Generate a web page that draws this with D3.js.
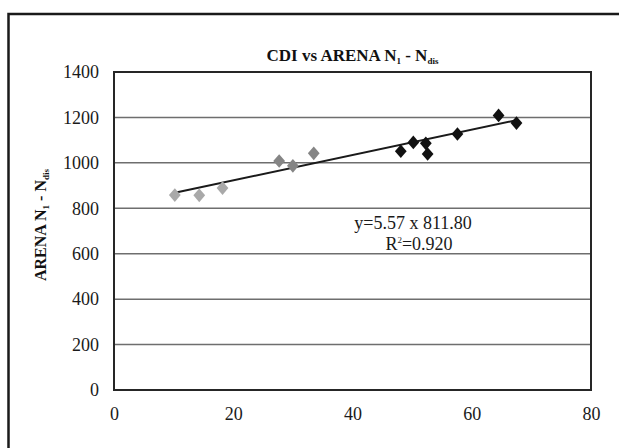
<!DOCTYPE html>
<html>
<head>
<meta charset="utf-8">
<script src="https://cdn.jsdelivr.net/npm/d3@7"></script>
<style>
  html, body { margin: 0; padding: 0; background: #fff; }
  svg { display: block; }
</style>
</head>
<body>
<svg id="chart" width="619" height="448"></svg>
<script>
// CDI values and ARENA N1 - Ndis, grouped in three series
const lightX = [10.2, 14.3, 18.2];
const lightY = [858, 857, 889];
const midX = [27.7, 30.0, 33.5];
const midY = [1008, 987, 1042];
const darkX = [48.1, 50.2, 52.3, 52.6, 57.6, 64.5, 67.5];
const darkY = [1051, 1090, 1086, 1039, 1127, 1209, 1175];

// Linear fit shown on the chart
const slope = 5.57;
const intercept = 811.80;
const rSquared = 0.920;

const xTicks = [0, 20, 40, 60, 80];
const yTicks = [0, 200, 400, 600, 800, 1000, 1200, 1400];

const titleText = "CDI vs ARENA N";
const serif = "'Liberation Serif', 'DejaVu Serif', serif";

const svg = d3.select("#chart");
const plot = { left: 114, right: 591, top: 72, bottom: 390 };

const x = d3.scaleLinear().domain([0, 80]).range([plot.left, plot.right]);
const y = d3.scaleLinear().domain([0, 1400]).range([plot.bottom, plot.top]);

// outer frame (runs off the right and bottom edges)
svg.append("rect")
  .attr("x", 8.5).attr("y", 14)
  .attr("width", 640).attr("height", 460)
  .attr("fill", "none").attr("stroke", "#1a1a1a").attr("stroke-width", 2.5);

// horizontal gridlines
svg.append("g")
  .selectAll("line")
  .data(yTicks.slice(1, -1))
  .join("line")
  .attr("x1", plot.left).attr("x2", plot.right)
  .attr("y1", d => y(d)).attr("y2", d => y(d))
  .attr("stroke", "#6e6e6e").attr("stroke-width", 1.5);

// plot border
svg.append("rect")
  .attr("x", plot.left).attr("y", plot.top)
  .attr("width", plot.right - plot.left).attr("height", plot.bottom - plot.top)
  .attr("fill", "none").attr("stroke", "#262626").attr("stroke-width", 2);

// axes: labels only
const yAxis = d3.axisLeft(y).tickValues(yTicks).tickFormat(d3.format("d")).tickSize(0).tickPadding(15);
svg.append("g").attr("transform", `translate(${plot.left},0)`).call(yAxis)
  .attr("font-family", null).attr("font-size", null)
  .call(g => g.select(".domain").remove())
  .selectAll("text")
  .style("font-family", serif).style("font-size", "18px").attr("fill", "#1a1a1a");

const xAxis = d3.axisBottom(x).tickValues(xTicks).tickFormat(d3.format("d")).tickSize(0).tickPadding(17);
svg.append("g").attr("transform", `translate(0,${plot.bottom})`).call(xAxis)
  .attr("font-family", null).attr("font-size", null)
  .call(g => g.select(".domain").remove())
  .selectAll("text")
  .style("font-family", serif).style("font-size", "18px").attr("fill", "#1a1a1a");

// title
const title = svg.append("text")
  .attr("x", (plot.left + plot.right) / 2).attr("y", 61)
  .attr("text-anchor", "middle")
  .style("font-family", serif).attr("font-weight", "bold").style("font-size", "17px")
  .attr("fill", "#111");
title.append("tspan").text(titleText);
title.append("tspan").style("font-size", "9px").attr("dy", 3).text("1");
title.append("tspan").attr("dy", -3).text(" - N");
title.append("tspan").style("font-size", "9px").attr("dy", 3).text("dis");

// y-axis title
const yTitle = svg.append("text")
  .attr("transform", `translate(46,${(plot.top + plot.bottom) / 2 - 6}) rotate(-90)`)
  .attr("text-anchor", "middle")
  .style("font-family", serif).attr("font-weight", "bold").style("font-size", "16px")
  .attr("fill", "#111");
yTitle.append("tspan").text("ARENA N");
yTitle.append("tspan").style("font-size", "9px").attr("dy", 3).text("1");
yTitle.append("tspan").attr("dy", -3).text(" - N");
yTitle.append("tspan").style("font-size", "9px").attr("dy", 3).text("dis");

// trend line across the data range
const allX = lightX.concat(midX, darkX);
const xMin = d3.min(allX), xMax = d3.max(allX);
svg.append("line")
  .attr("x1", x(xMin)).attr("y1", y(slope * xMin + intercept))
  .attr("x2", x(xMax)).attr("y2", y(slope * xMax + intercept))
  .attr("stroke", "#1a1a1a").attr("stroke-width", 2);

// diamond markers
const diamond = {
  draw(ctx, size) {
    const w = Math.sqrt(size) * 0.62, h = Math.sqrt(size) * 0.72;
    ctx.moveTo(0, -h); ctx.lineTo(w, 0); ctx.lineTo(0, h); ctx.lineTo(-w, 0); ctx.closePath();
  }
};
const sym = d3.symbol().type(diamond).size(90);

const series = [
  { xs: lightX, ys: lightY, color: "#a9a9a9" },
  { xs: midX, ys: midY, color: "#858585" },
  { xs: darkX, ys: darkY, color: "#111111" }
];
series.forEach(s => {
  svg.append("g")
    .selectAll("path")
    .data(d3.zip(s.xs, s.ys))
    .join("path")
    .attr("d", sym)
    .attr("transform", d => `translate(${x(d[0])},${y(d[1])})`)
    .attr("fill", s.color);
});

// fit annotation
svg.append("text")
  .attr("x", 413).attr("y", 229)
  .attr("text-anchor", "middle")
  .style("font-family", serif).style("font-size", "18px").attr("fill", "#1a1a1a")
  .text(`y=${slope.toFixed(2)} x ${intercept.toFixed(2)}`);
const r2 = svg.append("text")
  .attr("x", 419).attr("y", 250)
  .attr("text-anchor", "middle")
  .style("font-family", serif).style("font-size", "18px").attr("fill", "#1a1a1a");
r2.append("tspan").text("R");
r2.append("tspan").style("font-size", "9px").attr("dy", -7).text("2");
r2.append("tspan").attr("dy", 7).text(`=${rSquared.toFixed(3)}`);
</script>
</body>
</html>
